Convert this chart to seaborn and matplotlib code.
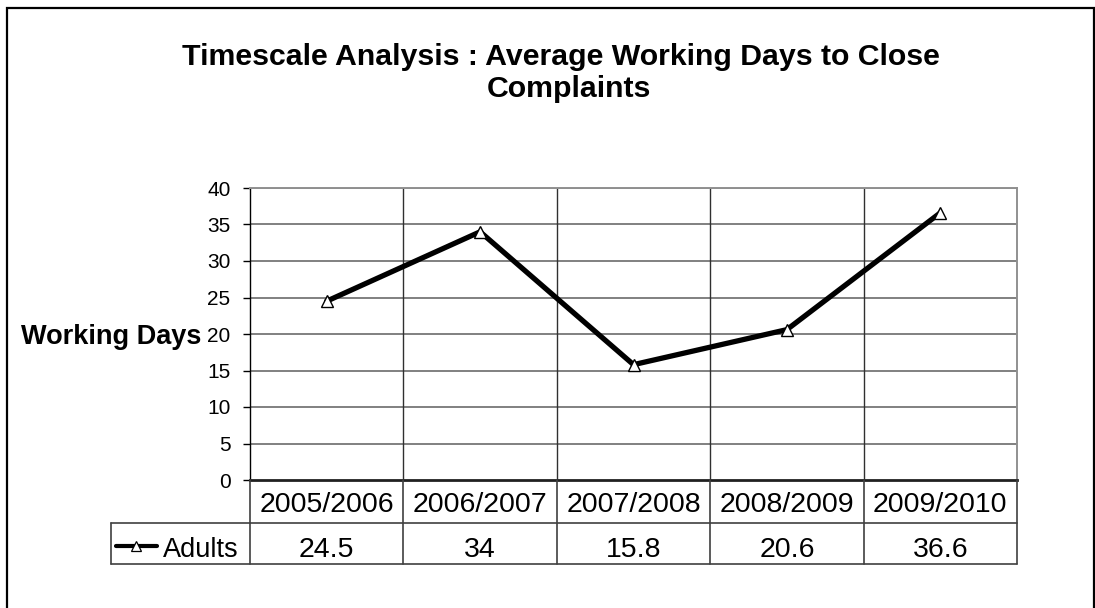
import matplotlib
matplotlib.use("Agg")
import matplotlib.pyplot as plt
import seaborn as sns
import pandas as pd
from matplotlib.patches import Rectangle
from matplotlib.lines import Line2D

categories = ["2005/2006", "2006/2007", "2007/2008", "2008/2009", "2009/2010"]
adults = [24.5, 34, 15.8, 20.6, 36.6]
value_labels = ["24.5", "34", "15.8", "20.6", "36.6"]
series_name = "Adults"
y_ticks = [0, 5, 10, 15, 20, 25, 30, 35, 40]
title_lines = ["Timescale Analysis : Average Working Days to Close", "Complaints"]
y_label = "Working Days"

sns.set_theme(style="white")
plt.rcParams["font.family"] = ["Liberation Sans", "DejaVu Sans"]
plt.rcParams["text.color"] = "black"
plt.rcParams["axes.labelcolor"] = "black"
plt.rcParams["ytick.color"] = "black"
plt.rcParams["xtick.color"] = "black"

W, H = 1095, 608
fig = plt.figure(figsize=(W / 100, H / 100), dpi=100)
fig.patch.set_facecolor("white")

def fx(px):
    return px / W
def fy(py):
    return 1 - py / H

L, R, T, B = 250, 1017, 188, 480
ax = fig.add_axes([fx(L), fy(B), fx(R) - fx(L), fy(T) - fy(B)])

df = pd.DataFrame({"period": categories, "days": adults})
sns.lineplot(data=df, x="period", y="days", ax=ax, color="black", linewidth=3.8,
             marker="^", markersize=8, markerfacecolor="white",
             markeredgecolor="black", markeredgewidth=1.0, sort=False, zorder=5)

ax.set_xlim(-0.5, len(categories) - 0.5)
ax.set_ylim(0, 40)
ax.set_yticks(y_ticks)
ax.set_yticklabels([str(v) for v in y_ticks], fontsize=15, color="black")
ax.set_xticks([])
ax.set_xlabel("")
ax.tick_params(axis="y", length=5, width=1, color="black", pad=9, left=True)

for v in y_ticks[1:]:
    ax.axhline(v, color="#808080", lw=1.4, zorder=1)
for i in range(1, len(categories)):
    ax.axvline(i - 0.5, color="#303030", lw=1.0, zorder=1)

for side in ["top", "right"]:
    ax.spines[side].set_color("#909090")
    ax.spines[side].set_linewidth(1.4)
ax.spines["left"].set_color("black")
ax.spines["left"].set_linewidth(1.0)
ax.spines["bottom"].set_color("#202020")
ax.spines["bottom"].set_linewidth(2.0)

ax.set_ylabel(y_label, rotation=0, fontsize=19.5, fontweight="bold", ha="right",
              va="center", color="black")
ax.yaxis.set_label_coords((201 - L) / (R - L), (B - 337) / (B - T))

ah = B - T
r1 = -(523 - B) / ah
r2 = -(564 - B) / ah
cw = (R - L) / len(categories)
xleft = (111 - L) / cw - 0.5
tr = ax.get_xaxis_transform()
kw = dict(transform=tr, clip_on=False, color="#404040", lw=1.2, zorder=3)
ax.plot([-0.5, len(categories) - 0.5], [r1, r1], **kw)
ax.plot([xleft, len(categories) - 0.5], [r2, r2], **kw)
ax.plot([xleft, -0.5], [r1, r1], **kw)
ax.plot([xleft, xleft], [r1, r2], **kw)
for i in range(len(categories) + 1):
    ax.plot([i - 0.5, i - 0.5], [0, r2], **kw)
yc1 = -(502 - B) / ah
yc2 = -(547 - B) / ah
for i, (c, v) in enumerate(zip(categories, value_labels)):
    ax.text(i, yc1, c, transform=tr, ha="center", va="center_baseline", fontsize=20.5,
            color="black")
    ax.text(i, yc2, v, transform=tr, ha="center", va="center_baseline", fontsize=20.5,
            color="black")
ym = -(546 - B) / ah
x0 = (116 - L) / cw - 0.5
x1 = (157 - L) / cw - 0.5
ax.add_line(Line2D([x0, x1], [ym, ym], transform=tr, color="black", lw=3.0, clip_on=False))
ax.add_line(Line2D([(x0 + x1) / 2], [ym], transform=tr, marker="^", markersize=7,
                   markerfacecolor="white", markeredgecolor="black", markeredgewidth=0.9,
                   lw=0, clip_on=False))
ax.text((163 - L) / cw - 0.5, yc2, series_name, transform=tr, ha="left",
        va="center_baseline", fontsize=19.5, color="black")

fig.text(fx(561), fy(57), title_lines[0], ha="center", va="center", fontsize=21.8,
         fontweight="bold", color="black")
fig.text(fx(569), fy(89), title_lines[1], ha="center", va="center", fontsize=21.8,
         fontweight="bold", color="black")

fig.patches.append(Rectangle((fx(6.5), fy(640)), fx(1094) - fx(6.5), fy(8) - fy(640),
                             transform=fig.transFigure, fill=False, edgecolor="black",
                             lw=1.6, zorder=0))

fig.savefig("out.png", dpi=100, facecolor="white")
